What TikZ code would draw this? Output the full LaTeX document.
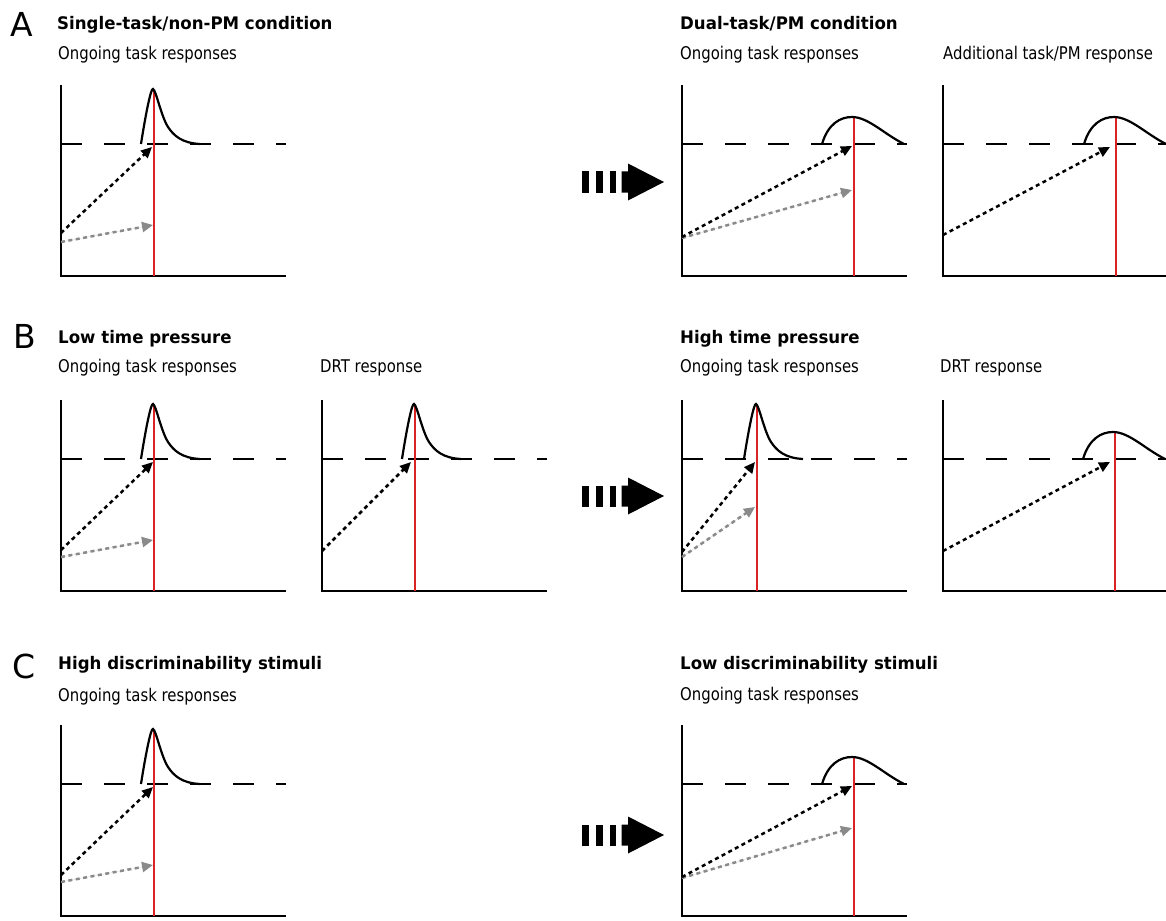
\documentclass[tikz,border=0pt]{standalone}
\usepackage{fontspec}
\setmainfont{DejaVu Sans}[FakeStretch=0.85]
\newfontfamily\titlefont{DejaVu Sans}[FakeStretch=0.96]
\newfontfamily\tagfont{DejaVu Sans}
\usepackage{tikz}
\usetikzlibrary{arrows.meta}

\definecolor{stimred}{RGB}{218,36,36}
\definecolor{evgray}{RGB}{138,138,138}

\begin{document}
\begin{tikzpicture}[
    x=1pt, y=-1pt,
    axisline/.style={line width=2.4pt},
    criterion/.style={line width=2.3pt, dash pattern=on 21pt off 22pt},
    stimline/.style={line width=2.1pt, draw=stimred},
    density/.style={line width=2.2pt},
    evidence/.style={line width=2.5pt, dash pattern=on 4pt off 3.5pt, -{Triangle[length=11pt,width=10pt]}},
    evfaint/.style={evidence, draw=evgray, fill=evgray},
    paneltag/.style={anchor=base west, inner sep=0pt, font=\tagfont\fontsize{33}{33}\selectfont},
    condtitle/.style={anchor=base west, inner sep=0pt, font=\titlefont\bfseries\fontsize{17.3}{19}\selectfont},
    resptitle/.style={anchor=base west, inner sep=0pt, font=\fontsize{17.5}{19}\selectfont},
    rtframe/.pic={
        \draw[axisline] (0,-59) -- (0,132) -- (225,132);
        \draw[criterion] (0,0) -- (225,0);
    },
    sharppeak/.pic={
        \draw[stimline] (0,-54) -- (0,132);
        \draw[density] (-13,0) .. controls (-8,-32) and (-3,-56) .. (-1,-55)
            .. controls (2,-54) and (7,-28) .. (14,-17)
            .. controls (20,-8) and (28,-1) .. (46,0);
    },
    broadpeak/.pic={
        \draw[stimline] (0,-27) -- (0,132);
        \draw[density] (-32,0) .. controls (-26,-20) and (-14,-27) .. (-2,-27)
            .. controls (14,-27) and (30,-10) .. (50,0);
    },
    shiftarrow/.pic={
        \fill (0,-10.5) rectangle (6.5,10.5);
        \fill (14,-10.5) rectangle (20.5,10.5);
        \fill (27.5,-10.5) rectangle (34,10.5);
        \fill (39.5,-10.5) -- (46,-10.5) -- (46,-18.5) -- (82,0)
            -- (46,18.5) -- (46,10.5) -- (39.5,10.5) -- cycle;
    }
]
    \useasboundingbox (0,0) rectangle (1166,920);

    % ================= ROW A =================
    \node[paneltag] (tagA) at (10,37) {A};
    \node[condtitle] (singletitle) at (57,29.5) {Single-task/non-PM condition};
    \node[condtitle] (dualtitle) at (680,30) {Dual-task/PM condition};
    \node[resptitle] (singleong) at (58,60) {Ongoing task responses};
    \node[resptitle] (dualong) at (680,60) {Ongoing task responses};
    \node[resptitle] (dualpm) at (943,60) {Additional task/PM response};

    % single-task, ongoing
    \begin{scope}[shift={(61,144)}]
        \pic {rtframe};
        \pic at (93,0) {sharppeak};
        \coordinate (sA) at (0,89);   \coordinate (tA) at (91,3);
        \coordinate (sAg) at (0,98);  \coordinate (tAg) at (92,81);
        \draw[evidence] (sA) -- (tA);
        \draw[evfaint] (sAg) -- (tAg);
    \end{scope}

    \pic at (582,182) {shiftarrow};

    % dual-task, ongoing
    \begin{scope}[shift={(682,144)}]
        \pic {rtframe};
        \pic at (172,0) {broadpeak};
        \coordinate (sD) at (0,93);   \coordinate (tD) at (170,2);
        \coordinate (sDg) at (0,94);  \coordinate (tDg) at (170,46);
        \draw[evfaint] (sDg) -- (tDg);
        \draw[evidence] (sD) -- (tD);
    \end{scope}

    % dual-task, PM response
    \begin{scope}[shift={(943,144)}]
        \pic {rtframe};
        \pic at (173,0) {broadpeak};
        \coordinate (sP) at (0,91);   \coordinate (tP) at (167,3);
        \draw[evidence] (sP) -- (tP);
    \end{scope}

    % ================= ROW B =================
    \node[paneltag] (tagB) at (13,348) {B};
    \node[condtitle] (lowtitle) at (58,343) {Low time pressure};
    \node[condtitle] (hightitle) at (680,343) {High time pressure};
    \node[resptitle] (lowong) at (58,372) {Ongoing task responses};
    \node[resptitle] (lowdrt) at (320,372) {DRT response};
    \node[resptitle] (highong) at (680,372) {Ongoing task responses};
    \node[resptitle] (highdrt) at (940,372) {DRT response};

    % low pressure, ongoing
    \begin{scope}[shift={(61,459)}]
        \pic {rtframe};
        \pic at (93,0) {sharppeak};
        \coordinate (sL) at (0,91);   \coordinate (tL) at (92,3);
        \coordinate (sLg) at (0,98);  \coordinate (tLg) at (92,81);
        \draw[evidence] (sL) -- (tL);
        \draw[evfaint] (sLg) -- (tLg);
    \end{scope}

    % low pressure, DRT
    \begin{scope}[shift={(322,459)}]
        \pic {rtframe};
        \pic at (93,0) {sharppeak};
        \coordinate (sLd) at (0,92);  \coordinate (tLd) at (89,3);
        \draw[evidence] (sLd) -- (tLd);
    \end{scope}

    \pic at (582,496) {shiftarrow};

    % high pressure, ongoing
    \begin{scope}[shift={(682,459)}]
        \pic {rtframe};
        \pic at (75,0) {sharppeak};
        \coordinate (sH) at (0,93);   \coordinate (tH) at (73,3);
        \coordinate (sHg) at (0,98);  \coordinate (tHg) at (73,48);
        \draw[evidence] (sH) -- (tH);
        \draw[evfaint] (sHg) -- (tHg);
    \end{scope}

    % high pressure, DRT
    \begin{scope}[shift={(943,459)}]
        \pic {rtframe};
        \pic at (172,0) {broadpeak};
        \coordinate (sHd) at (0,92);  \coordinate (tHd) at (167,3);
        \draw[evidence] (sHd) -- (tHd);
    \end{scope}

    % ================= ROW C =================
    \node[paneltag] (tagC) at (12,678) {C};
    \node[condtitle] (hdtitle) at (58,669) {High discriminability stimuli};
    \node[condtitle] (ldtitle) at (680,669) {Low discriminability stimuli};
    \node[resptitle] (hdong) at (58,701) {Ongoing task responses};
    \node[resptitle] (ldong) at (680,700) {Ongoing task responses};

    % high discriminability, ongoing
    \begin{scope}[shift={(61,784)}]
        \pic {rtframe};
        \pic at (93,0) {sharppeak};
        \coordinate (sE) at (0,91);   \coordinate (tE) at (92,3);
        \coordinate (sEg) at (0,98);  \coordinate (tEg) at (92,81);
        \draw[evidence] (sE) -- (tE);
        \draw[evfaint] (sEg) -- (tEg);
    \end{scope}

    \pic at (582,835) {shiftarrow};

    % low discriminability, ongoing
    \begin{scope}[shift={(682,784)}]
        \pic {rtframe};
        \pic at (172,0) {broadpeak};
        \coordinate (sF) at (0,93);   \coordinate (tF) at (170,2);
        \coordinate (sFg) at (0,94);  \coordinate (tFg) at (170,44);
        \draw[evfaint] (sFg) -- (tFg);
        \draw[evidence] (sF) -- (tF);
    \end{scope}

\end{tikzpicture}
\end{document}
